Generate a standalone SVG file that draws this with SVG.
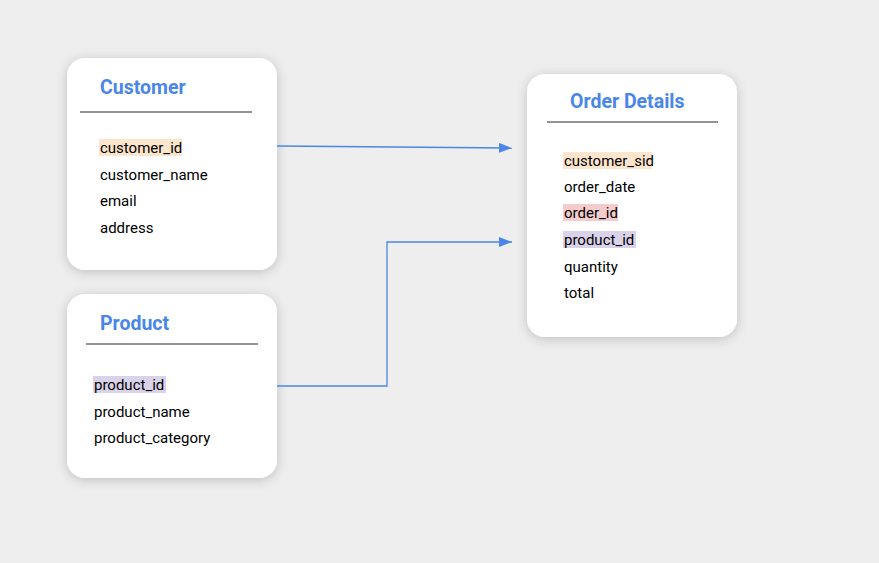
<svg xmlns="http://www.w3.org/2000/svg" width="879" height="563" viewBox="0 0 879 563">
<style>
.card{fill:#ffffff;filter:url(#sh);}
.title{font-family:Roboto,"Open Sans",sans-serif;font-size:19.5px;font-weight:bold;fill:#4a86e8;}
.field{font-family:Roboto,"Open Sans",sans-serif;font-size:15px;fill:#000000;}
.div{stroke:#707070;stroke-width:1.3;}
.conn{fill:none;stroke:#4a86e8;stroke-width:1.3;}
</style>
<defs>
<filter id="sh" x="-20%" y="-20%" width="140%" height="140%">
<feDropShadow dx="0" dy="2" stdDeviation="6" flood-color="#000000" flood-opacity="0.2"/>
</filter>
<marker id="arr" markerWidth="14" markerHeight="12" refX="13" refY="5" orient="auto" markerUnits="userSpaceOnUse">
<path d="M0,0 L13,5 L0,10 Z" fill="#4a86e8"/>
</marker>
</defs>
<rect width="879" height="563" fill="#eeeeee"/>
<g id="customer">
<rect class="card" x="67" y="58" width="210" height="212" rx="18"/>
<text class="title" x="100" y="94">Customer</text>
<line class="div" x1="80" y1="112" x2="252" y2="112"/>
<rect x="99" y="139" width="83" height="17" fill="#fce5cd"/>
<text class="field" x="100" y="153">customer_id</text>
<text class="field" x="100" y="180">customer_name</text>
<text class="field" x="100" y="206">email</text>
<text class="field" x="100" y="233">address</text>
</g>
<g id="product">
<rect class="card" x="67" y="294" width="210" height="184" rx="18"/>
<text class="title" x="100" y="330">Product</text>
<line class="div" x1="86" y1="344" x2="258" y2="344"/>
<rect x="93" y="376" width="73" height="17" fill="#d9d2e9"/>
<text class="field" x="94" y="390">product_id</text>
<text class="field" x="94" y="417">product_name</text>
<text class="field" x="94" y="443">product_category</text>
</g>
<g id="order_details">
<rect class="card" x="527" y="74" width="210" height="263" rx="18"/>
<text class="title" x="570" y="108">Order Details</text>
<line class="div" x1="547" y1="122" x2="718" y2="122"/>
<rect x="563" y="152" width="89" height="17" fill="#fce5cd"/>
<rect x="563" y="204" width="55" height="17" fill="#f4cccc"/>
<rect x="563" y="231" width="73" height="17" fill="#d9d2e9"/>
<text class="field" x="564" y="166">customer_sid</text>
<text class="field" x="564" y="192">order_date</text>
<text class="field" x="564" y="218">order_id</text>
<text class="field" x="564" y="245">product_id</text>
<text class="field" x="564" y="272">quantity</text>
<text class="field" x="564" y="298">total</text>
</g>
<g id="connectors">
<path class="conn" d="M277,146 L512,148" marker-end="url(#arr)"/>
<path class="conn" d="M277,386 L387,386 L387,242 L512,242" marker-end="url(#arr)"/>
</g>
</svg>
